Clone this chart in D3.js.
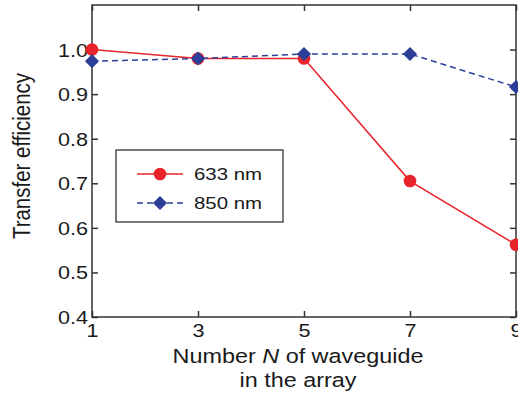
<!DOCTYPE html>
<html><head><meta charset="utf-8">
<script src="https://cdn.jsdelivr.net/npm/d3@7"></script>
<style>body{margin:0;background:#fff}svg{display:block}text{font-family:"Liberation Sans",Arial,sans-serif;fill:#1a1a1a}</style>
</head><body>
<script>
const N = [1, 3, 5, 7, 9];
const eff633 = [1.0, 0.98, 0.98, 0.705, 0.562];
const eff850 = [0.974, 0.98, 0.99, 0.99, 0.916];
const xTicks = [1, 3, 5, 7, 9];
const yTicks = [0.4, 0.5, 0.6, 0.7, 0.8, 0.9, 1.0];
const seriesNames = ["633 nm", "850 nm"];

const W = 518, H = 398;
const m = {l: 92, t: 5, r: 2, b: 81};
const SX = 1.2; // horizontal stretch of the reference lettering
const svg = d3.select("body").append("svg").attr("width", W).attr("height", H);
const x = d3.scaleLinear().domain([1, 9]).range([m.l, W - m.r]);
const y = d3.scaleLinear().domain([0.4, 1.1]).range([H - m.b, m.t]);
const axisCol = "#333";
const red = "#e8232a", blue = "#2b3f98";

function stext(g, px, py, str, size, anchor) {
  return g.append("text").attr("transform", `translate(${px},${py}) scale(${SX},1)`)
    .attr("text-anchor", anchor || "start").attr("font-size", size).text(str);
}

// frame
svg.append("rect").attr("x", m.l).attr("y", m.t).attr("width", x(9) - m.l).attr("height", y(0.4) - m.t)
  .attr("fill", "none").attr("stroke", axisCol).attr("stroke-width", 1.5);

const tl = 6;
const gx = svg.append("g").attr("transform", `translate(0,${y(0.4)})`)
  .call(d3.axisBottom(x).tickValues(xTicks).tickSize(-tl).tickPadding(0).tickFormat(d3.format("d")));
const gxt = svg.append("g").attr("transform", `translate(0,${m.t})`)
  .call(d3.axisTop(x).tickValues(xTicks).tickSize(-tl).tickFormat(""));
const gy = svg.append("g").attr("transform", `translate(${m.l},0)`)
  .call(d3.axisLeft(y).tickValues(yTicks).tickSize(-tl).tickPadding(0).tickFormat(d3.format(".1f")));
const gyr = svg.append("g").attr("transform", `translate(${x(9)},0)`)
  .call(d3.axisRight(y).tickValues(yTicks).tickSize(-tl).tickFormat(""));
[gx, gxt, gy, gyr].forEach(g => {
  g.select(".domain").remove();
  g.selectAll(".tick line").attr("stroke", axisCol).attr("stroke-width", 1.5);
  g.selectAll(".tick text").attr("font-size", 18).attr("fill", "#1a1a1a")
   .style("font-family", '"Liberation Sans",Arial,sans-serif');
});
gy.selectAll(".tick text").attr("x", null).attr("dy", null).attr("y", 6.5)
  .attr("transform", `translate(-4,0) scale(${SX},1)`);
gx.selectAll(".tick text").attr("dy", null).attr("y", 0)
  .attr("transform", `translate(0,20) scale(${SX},1)`);

// axis titles
svg.append("text").attr("transform", `translate(30,${(m.t + y(0.4)) / 2 - 5}) scale(${SX},1) rotate(-90)`)
  .attr("text-anchor", "middle").attr("font-size", 20.5).text("Transfer efficiency");
const xt = svg.append("text").attr("transform", `translate(298,363) scale(${SX},1)`).attr("text-anchor", "middle").attr("font-size", 19.5);
xt.append("tspan").text("Number ");
xt.append("tspan").attr("font-style", "italic").text("N");
xt.append("tspan").text(" of waveguide");
stext(svg, 298, 387, "in the array", 19.5, "middle");

// lines
const line = d3.line().x((d, i) => x(N[i])).y(d => y(d));
svg.append("path").datum(eff633).attr("d", line).attr("fill", "none").attr("stroke", red).attr("stroke-width", 1.5);
svg.append("path").datum(eff850).attr("d", line).attr("fill", "none").attr("stroke", blue).attr("stroke-width", 1.5).attr("stroke-dasharray", "6,4");

const diamond = d3.symbol().type(d3.symbolSquare).size(100);
svg.selectAll(".c633").data(eff633).join("circle").attr("cx", (d, i) => x(N[i])).attr("cy", d => y(d)).attr("r", 6.3).attr("fill", red);
svg.selectAll(".d850").data(eff850).join("path").attr("d", diamond())
  .attr("transform", (d, i) => `translate(${x(N[i])},${y(d)}) rotate(45)`).attr("fill", blue);

// legend
const lg = svg.append("g");
lg.append("rect").attr("x", 116).attr("y", 150).attr("width", 167).attr("height", 72).attr("fill", "#fff").attr("stroke", "#222").attr("stroke-width", 1.2);
const ly = [174, 203];
lg.append("line").attr("x1", 137).attr("x2", 183).attr("y1", ly[0]).attr("y2", ly[0]).attr("stroke", red).attr("stroke-width", 1.5);
lg.append("circle").attr("cx", 160).attr("cy", ly[0]).attr("r", 6.3).attr("fill", red);
lg.append("line").attr("x1", 137).attr("x2", 183).attr("y1", ly[1]).attr("y2", ly[1]).attr("stroke", blue).attr("stroke-width", 1.5).attr("stroke-dasharray", "6,4");
lg.append("path").attr("d", diamond()).attr("transform", `translate(160,${ly[1]}) rotate(45)`).attr("fill", blue);
seriesNames.forEach((s, i) => stext(lg, 194, ly[i] + 6, s, 17));
</script>
</body></html>
